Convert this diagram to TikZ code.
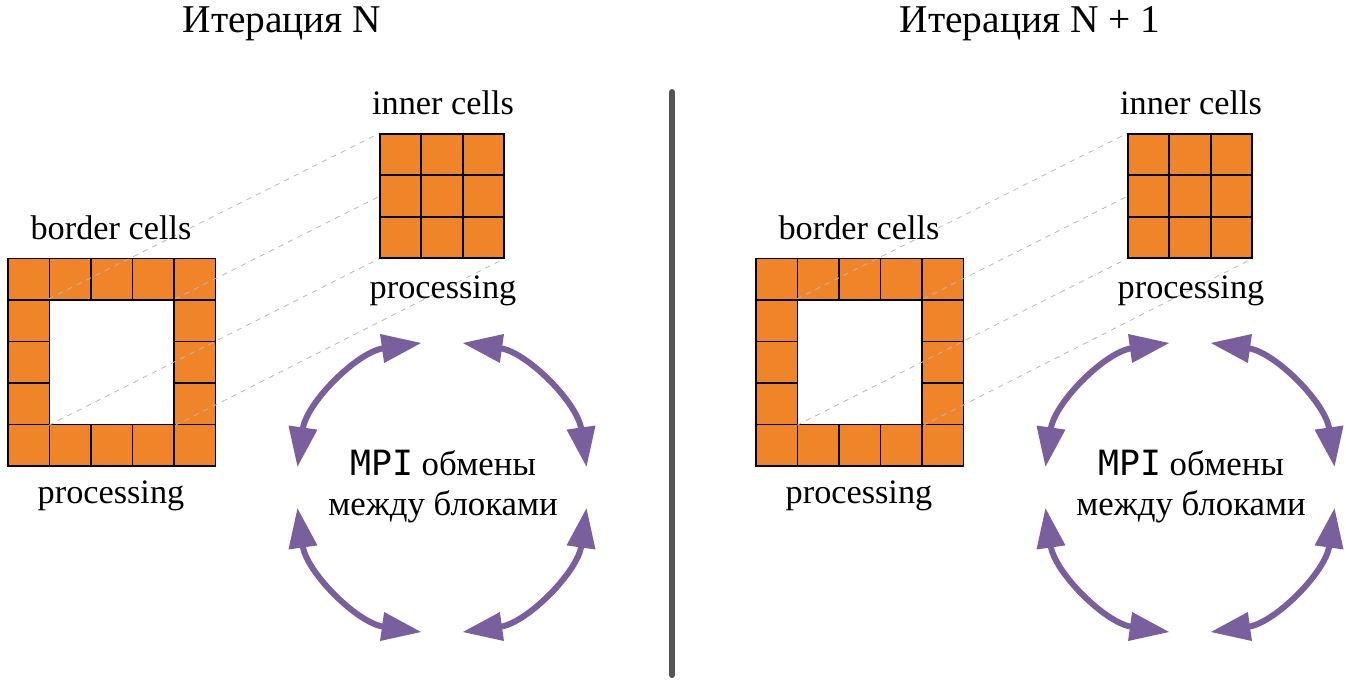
\documentclass[tikz,border=0pt]{standalone}
\usepackage{fontspec}
\setmainfont{Liberation Serif}
\setmonofont{DejaVu Sans Mono}
\usetikzlibrary{arrows.meta,positioning}
\definecolor{CellOrange}{HTML}{EF8528}
\definecolor{XchgPurple}{HTML}{7A5F9E}
\definecolor{RuleGray}{HTML}{555555}

\begin{document}
\begin{tikzpicture}[
  cell/.style={draw=black,fill=CellOrange,line width=1.1pt},
  hole/.style={draw=black,fill=white,line width=1.1pt,minimum size=2.49cm,inner sep=0pt},
  block/.style={minimum size=2.49cm,inner sep=0pt},
  lbl/.style={font=\fontsize{19.5}{23}\selectfont,inner sep=0pt,anchor=base},
  ttl/.style={font=\fontsize{22.4}{26}\selectfont,inner sep=0pt,anchor=base},
  msg/.style={font=\fontsize{19.8}{22.8}\selectfont,align=center,inner sep=0pt},
  proj/.style={draw=gray!55,dashed,line width=0.45pt},
  xchg/.style={{Triangle[length=0.8cm,width=0.55cm]}-{Triangle[length=0.8cm,width=0.55cm]},draw=XchgPurple,line width=0.12cm},
  divider/.style={draw=RuleGray,line width=0.12cm,line cap=round}
]
\useasboundingbox (0,0) rectangle (26.92,13.7);

\foreach \dx/\p/\ttltext in {0/L/{Итерация N},14.96/R/{Итерация N + 1}}{
\begin{scope}[xshift=\dx cm]
  % border cells
  \foreach \i in {0,...,4}
    \foreach \j in {0,...,4}
      \draw[cell] (0.16+0.83*\i,4.38+0.83*\j) rectangle ++(0.83,0.83);
  \node[hole] (hole\p) at (2.235,6.455) {};
  \node[block] (inner\p) at (8.845,9.785) {};
  % projection of the hole
  \draw[proj] (hole\p.north west) -- (inner\p.north west);
  \draw[proj] (hole\p.north east) -- (inner\p.north east);
  \draw[proj] (hole\p.south west) -- (inner\p.south west);
  \draw[proj] (hole\p.south east) -- (inner\p.south east);
  % inner cells
  \foreach \i in {0,...,2}
    \foreach \j in {0,...,2}
      \draw[cell] ([shift={(0.83*\i,0.83*\j)}]inner\p.south west) rectangle ++(0.83,0.83);

  \node[ttl] (title\p) at (5.64,13.04) {\ttltext};
  \node[lbl] (innerlbl\p) at (8.86,11.40) {inner cells};
  \node[lbl] (borderlbl\p) at (2.22,8.92) {border cells};
  \node[lbl] (innerproc\p) at (8.86,7.74) {processing};
  \node[lbl] (borderproc\p) at (2.22,3.64) {processing};

  % exchanges
  \coordinate (hub\p) at (8.84,3.95);
  \node[msg] (mpi\p) at (8.86,3.96) {\texttt{MPI} обмены\\между блоками};
  \foreach \a in {0,90,180,270}
    \draw[xchg] ([shift={(\a+8:2.92)}]hub\p) arc[start angle=\a+8,end angle=\a+82,radius=2.92];
\end{scope}
}

\coordinate (divtop) at (13.44,11.86);
\coordinate (divbot) at (13.44,0.2);
\draw[divider] (divtop) -- (divbot);
\end{tikzpicture}
\end{document}
